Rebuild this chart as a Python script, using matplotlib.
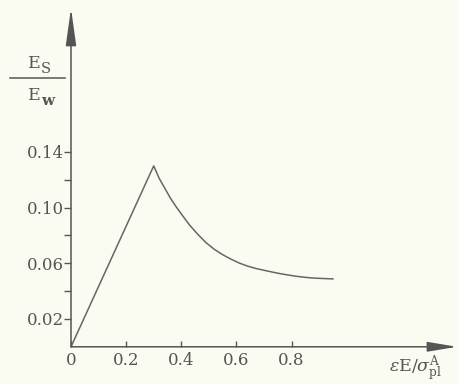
import matplotlib
matplotlib.use("Agg")
import matplotlib.pyplot as plt
from matplotlib.lines import Line2D

# values
strain = [0, 0.30, 0.32, 0.34, 0.36, 0.38, 0.40, 0.43, 0.46, 0.49, 0.52, 0.55, 0.58,
          0.61, 0.64, 0.67, 0.70, 0.73, 0.76, 0.79, 0.82, 0.85, 0.88, 0.91, 0.95]
ratio = [0, 0.130, 0.121, 0.114, 0.107, 0.101, 0.0955, 0.0875, 0.0808, 0.0748,
         0.0700, 0.0662, 0.0630, 0.0602, 0.0580, 0.0563, 0.0550, 0.0537, 0.0525,
         0.0515, 0.0506, 0.0499, 0.0494, 0.0491, 0.0488]
xticks = [0, 0.2, 0.4, 0.6, 0.8]
xlabels = ["0", "0.2", "0.4", "0.6", "0.8"]
yticks = [0.02, 0.04, 0.06, 0.08, 0.10, 0.12, 0.14]
ylabels = ["0.02", "", "0.06", "", "0.10", "", "0.14"]

bg = "#fbfcf1"
ink = "#555555"

plt.rcParams["font.family"] = "DejaVu Serif"
plt.rcParams["mathtext.fontset"] = "dejavuserif"

fig = plt.figure(figsize=(4.58, 3.84), dpi=100, facecolor=bg)
ax = fig.add_axes([71 / 458, 0.0969, 1 - 72 / 458, 0.882])
ax.set_facecolor(bg)

ax.plot(strain, ratio, color="#666666", lw=1.1)

ax.set_xlim(0, 1.4)
ax.set_ylim(0, 0.2434)
for s in ax.spines.values():
    s.set_visible(False)

# axes drawn as arrows
ax.annotate("", xy=(0, 1), xytext=(0, 0), xycoords="axes fraction",
            arrowprops=dict(arrowstyle="-|>,head_length=2.3,head_width=0.32",
                            color=ink, lw=1.1, shrinkA=0, shrinkB=0))
ax.annotate("", xy=(1, 0), xytext=(0, 0), xycoords="axes fraction",
            arrowprops=dict(arrowstyle="-|>,head_length=1.8,head_width=0.3",
                            color=ink, lw=1.1, shrinkA=0, shrinkB=0))

ax.set_xticks(xticks)
ax.set_xticklabels(xlabels)
ax.set_yticks(yticks)
ax.set_yticklabels(ylabels)
ax.tick_params(axis="x", direction="in", length=4, width=1, color=ink,
               labelsize=12, labelcolor=ink, pad=4)
ax.tick_params(axis="y", direction="out", length=5, width=1, color=ink,
               labelsize=12, labelcolor=ink, pad=0)

# E_S / E_W label
fig.text(28 / 458, 1 - 64 / 384, "E", fontsize=12.5, color=ink, ha="left", va="center")
fig.text(41 / 458, 1 - 69 / 384, "S", fontsize=10.5, color=ink, ha="left", va="center")
fig.text(28 / 458, 1 - 96 / 384, "E", fontsize=12.5, color=ink, ha="left", va="center")
fig.text(41 / 458, 1 - 101 / 384, "w", fontsize=11, color=ink, ha="left", va="center",
         fontweight="bold")
fig.add_artist(Line2D([10 / 458, 65 / 458], [1 - 78 / 384, 1 - 78 / 384],
                      color=ink, lw=1.1))

# x axis label
fig.text(416 / 458, 1 - 369 / 384,
         r"$\varepsilon\mathrm{E}/\sigma_{\mathrm{pl}}^{\mathrm{A}}$",
         fontsize=12.5, color=ink, ha="center", va="center")

fig.savefig("out.png", dpi=100, facecolor=bg)
